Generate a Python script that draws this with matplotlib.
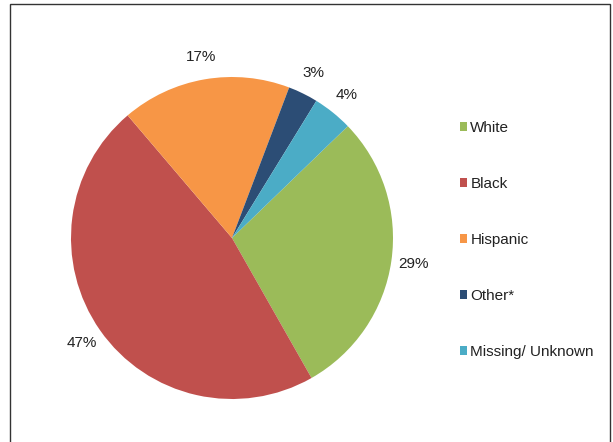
import matplotlib
matplotlib.use("Agg")
import matplotlib.pyplot as plt
from matplotlib.patches import Rectangle

categories = ["White", "Black", "Hispanic", "Other*", "Missing/ Unknown"]
values = [29, 47, 17, 3, 4]
colors = ["#9BBB59", "#C0504D", "#F79646", "#2C4D75", "#4BACC6"]

plt.rcParams['font.family'] = ['Liberation Sans', 'DejaVu Sans']

W, H = 613, 442
fig = plt.figure(figsize=(W / 100, H / 100), dpi=100)
fig.patch.set_facecolor("white")

# border (top, left, right)
fig.add_artist(Rectangle((10 / W, -0.05), 600 / W, (438 / H) + 0.05,
                         transform=fig.transFigure, fill=False,
                         edgecolor="#333333", linewidth=1.0))

cx, cy, r = 232, 238, 161
ax = fig.add_axes([(cx - r) / W, (H - cy - r) / H, 2 * r / W, 2 * r / H])
wedges, texts, autotexts = ax.pie(
    values, colors=colors, startangle=44, counterclock=False,
    autopct=lambda p: f"{p:.0f}%", pctdistance=1.14,
    wedgeprops=dict(edgecolor="none"),
    textprops=dict(fontsize=11, color="#222222"))
ax.set_xlim(-1, 1)
ax.set_ylim(-1, 1)
ax.set_aspect("equal")
ax.axis("off")

leg = fig.legend(wedges, categories, loc="center left",
                 bbox_to_anchor=(452 / W, (H - 240) / H),
                 frameon=False, fontsize=11, labelspacing=2.74,
                 handlelength=0.5, handleheight=0.5, handletextpad=0.2,
                 borderpad=0)
for t in leg.get_texts():
    t.set_color("#222222")

fig.savefig("out.png", dpi=100)
